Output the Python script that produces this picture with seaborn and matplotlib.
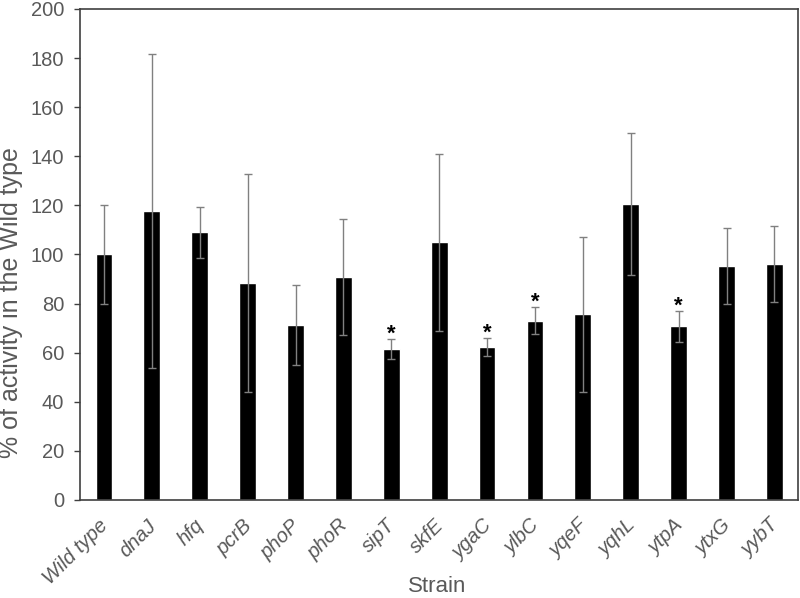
import numpy as np
import matplotlib
matplotlib.use("Agg")
import matplotlib.pyplot as plt
import matplotlib.transforms as mtransforms
import seaborn as sns

strains = ['Wild type', 'dnaJ', 'hfq', 'pcrB', 'phoP', 'phoR', 'sipT', 'skfE',
           'ygaC', 'ylbC', 'yqeF', 'yqhL', 'ytpA', 'ytxG', 'yybT']
activity = [100, 117.8, 109.0, 88.3, 71.3, 90.8, 61.5, 104.9,
            62.3, 73.0, 75.6, 120.6, 70.7, 95.3, 96.1]
sd = [20, 64, 10.3, 44.5, 16.3, 23.5, 4.0, 36.0,
      3.8, 5.6, 31.6, 29.0, 6.4, 15.5, 15.5]
significant = ['sipT', 'ygaC', 'ylbC', 'ytpA']

sns.set_style("white")
plt.rcParams['font.family'] = ['Liberation Sans', 'DejaVu Sans']

fig, ax = plt.subplots(figsize=(8, 5.98), dpi=100)
fig.subplots_adjust(left=0.1, right=0.998, top=0.985, bottom=0.164)

sns.barplot(x=strains, y=activity, color='black', saturation=1, width=0.35, ax=ax)
ax.errorbar(np.arange(len(strains)), activity, yerr=sd, fmt='none',
            ecolor='#808080', elinewidth=1, capsize=3, capthick=1)

for i, s in enumerate(strains):
    if s in significant:
        ax.annotate('*', (i, activity[i] + sd[i]), xytext=(0, -0.5),
                    textcoords='offset points', ha='center', va='baseline',
                    fontsize=16, fontweight='bold', color='black')

ax.set_xlim(-0.5, len(strains) - 0.5)
ax.set_ylim(0, 200)
ax.set_yticks(range(0, 201, 20))

grey = '#595959'
ax.tick_params(axis='y', which='both', left=True, length=4.5, width=1,
               color='#404040', pad=7, labelsize=14.5, labelcolor=grey)
ax.tick_params(axis='x', bottom=False, pad=8, labelsize=14.5, labelcolor=grey)
shift = mtransforms.ScaledTranslation(-0.055, 0, fig.dpi_scale_trans)
for lab in ax.get_xticklabels():
    lab.set_rotation(45)
    lab.set_ha('right')
    lab.set_rotation_mode('anchor')
    lab.set_style('italic')
    lab.set_transform(lab.get_transform() + shift)

for sp in ax.spines.values():
    sp.set_color('#404040')
    sp.set_linewidth(1.2)

ax.set_xlabel('Strain', fontsize=16, color=grey, va='baseline')
ax.xaxis.set_label_coords(0.4965, -0.187)
ax.set_ylabel('% of activity in the Wild type', fontsize=18, color=grey, va='center')
ax.yaxis.set_label_coords(-0.096, 0.403)

fig.savefig('out.png', dpi=100)
